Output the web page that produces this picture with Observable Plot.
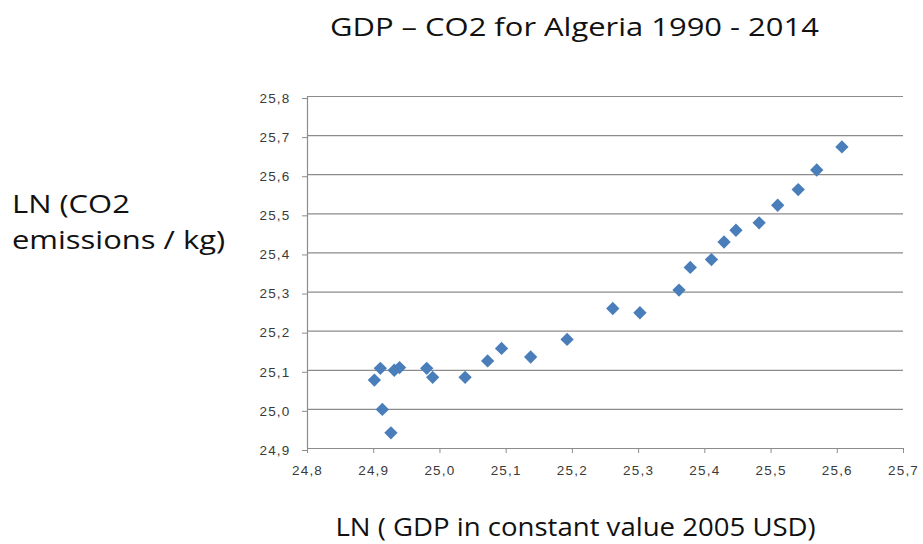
<!DOCTYPE html>
<html>
<head>
<meta charset="utf-8">
<script src="https://cdn.jsdelivr.net/npm/d3@7"></script>
<script src="https://cdn.jsdelivr.net/npm/@observablehq/plot@0.6"></script>
<style>
  body { margin: 0; background: #fff; }
  #wrap { position: relative; width: 923px; height: 544px; overflow: hidden; }
  .lbl { position: absolute; font-family: "Open Sans", sans-serif; color: #111; white-space: nowrap; font-size: 26px; line-height: 26px; }
  .stretch { display: inline-block; }
</style>
</head>
<body>
<div id="wrap">
  <div class="lbl" style="left:0; width:1148px; text-align:center; top:13px;"><span class="stretch" style="transform:scaleX(1.19)">GDP – CO2 for Algeria 1990 - 2014</span></div>
  <div class="lbl" style="left:12px; top:185px; line-height:36px; transform-origin:0 0; transform:scaleX(1.19);">LN (CO2<br>emissions / kg)</div>
  <div class="lbl" style="left:0; width:1152px; text-align:center; top:513px;"><span class="stretch" style="transform:scaleX(1.06)">LN ( GDP in constant value 2005 USD)</span></div>
</div>
<script>
const years = d3.range(1990, 2015);
const lnGDP = [24.901, 24.910, 24.913, 24.926, 24.931, 24.939, 24.980, 24.989, 25.038, 25.072, 25.093, 25.137, 25.192, 25.261, 25.302, 25.361, 25.378, 25.410, 25.429, 25.447, 25.482, 25.510, 25.541, 25.569, 25.607];
const lnCO2 = [25.075, 25.105, 25.000, 24.940, 25.100, 25.107, 25.105, 25.082, 25.082, 25.124, 25.156, 25.134, 25.179, 25.258, 25.247, 25.305, 25.363, 25.383, 25.428, 25.458, 25.477, 25.522, 25.562, 25.612, 25.671];
const xTicks = [24.8, 24.9, 25.0, 25.1, 25.2, 25.3, 25.4, 25.5, 25.6, 25.7];
const yTicks = [24.9, 25.0, 25.1, 25.2, 25.3, 25.4, 25.5, 25.6, 25.7, 25.8];

const data = lnGDP.map((x, i) => ({year: years[i], x, y: lnCO2[i]}));
const fmt = d => d.toFixed(1).replace(".", ",");

const chart = Plot.plot({
  width: 923,
  height: 544,
  marginLeft: 307,
  marginRight: 20,
  marginTop: 96,
  marginBottom: 96,
  style: {fontFamily: "'Liberation Sans', Arial, sans-serif", fontSize: "13.5px", color: "#3a3a3a", background: "transparent", letterSpacing: "1.2px"},
  x: {domain: [24.8, 25.7], ticks: xTicks, tickFormat: fmt, label: null},
  y: {domain: [24.9, 25.8], ticks: yTicks, tickFormat: fmt, label: null},
  marks: [
    Plot.ruleY(yTicks, {stroke: "#8c8c8c", strokeWidth: 1.2}),
    Plot.ruleX([24.8], {stroke: "#8c8c8c", strokeWidth: 1.2}),
    Plot.axisX({ticks: xTicks, tickFormat: fmt, tickSize: 5, tickPadding: 12, stroke: "#8c8c8c", label: null}),
    Plot.axisY({ticks: yTicks, tickFormat: fmt, tickSize: 5, tickPadding: 12, dy: 2, stroke: "#8c8c8c", label: null}),
    Plot.dot(data, {x: "x", y: "y", symbol: "diamond2", r: 6, fill: "#4a7ebb", stroke: "none"})
  ]
});
chart.style.position = "absolute";
chart.style.left = "0";
chart.style.top = "0";
document.getElementById("wrap").prepend(chart);
</script>
</body>
</html>
